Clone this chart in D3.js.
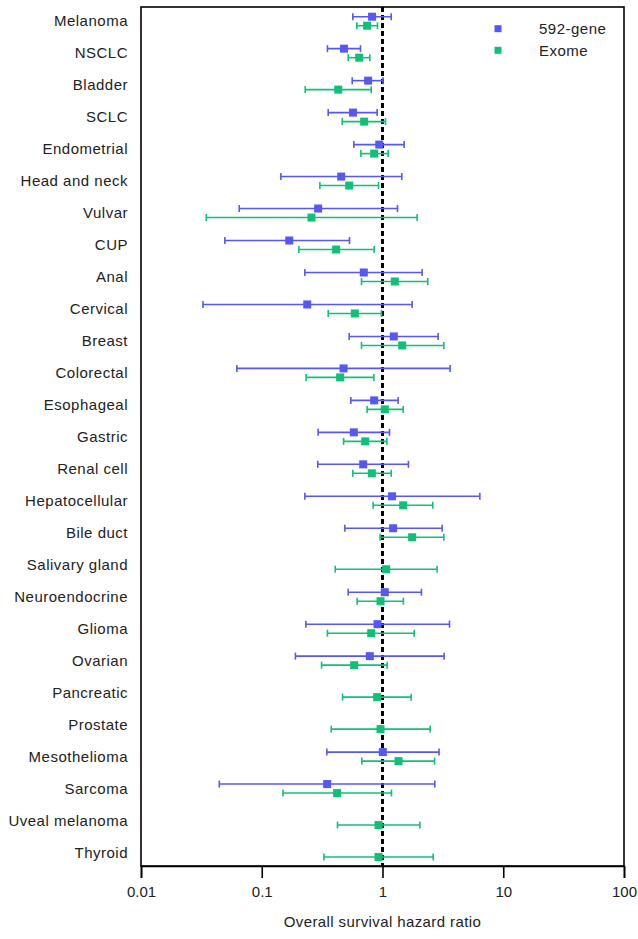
<!DOCTYPE html>
<html>
<head>
<meta charset="utf-8">
<script src="https://cdn.jsdelivr.net/npm/d3@7"></script>
<style>
  html, body { margin: 0; padding: 0; background: #fff; }
  svg { display: block; font-family: "Liberation Sans", Arial, sans-serif; }
</style>
</head>
<body>
<svg id="chart" width="638" height="939"></svg>
<script>
const categories = ["Melanoma","NSCLC","Bladder","SCLC","Endometrial","Head and neck","Vulvar","CUP","Anal","Cervical","Breast","Colorectal","Esophageal","Gastric","Renal cell","Hepatocellular","Bile duct","Salivary gland","Neuroendocrine","Glioma","Ovarian","Pancreatic","Prostate","Mesothelioma","Sarcoma","Uveal melanoma","Thyroid"];

// 592-gene series (null = not reported)
const geneHR   = [0.82,0.48,0.76,0.57,0.94,0.455,0.293,0.169,0.70,0.238,1.24,0.476,0.853,0.579,0.692,1.20,1.225,null,1.045,0.909,0.785,null,null,1.006,0.348,null,null];
const geneLow  = [0.568,0.35,0.561,0.355,0.579,0.144,0.0651,0.0495,0.2275,0.0326,0.53,0.0622,0.547,0.293,0.291,0.2275,0.488,null,0.52,0.232,0.19,null,null,0.346,0.0445,null,null];
const geneHigh = [1.18,0.657,1.01,0.903,1.51,1.445,1.331,0.533,2.13,1.76,2.89,3.63,1.348,1.143,1.64,6.4,3.12,null,2.10,3.59,3.24,null,null,2.94,2.71,null,null];

// Exome series
const exomeHR   = [0.746,0.641,0.43,0.705,0.853,0.53,0.258,0.413,1.265,0.59,1.455,0.446,1.045,0.719,0.816,1.483,1.76,1.072,0.963,0.806,0.583,0.903,0.963,1.357,0.421,0.927,0.927];
const exomeLow  = [0.613,0.52,0.229,0.464,0.662,0.303,0.0347,0.203,0.67,0.355,0.67,0.233,0.746,0.476,0.568,0.837,0.956,0.406,0.617,0.35,0.313,0.467,0.376,0.674,0.15,0.424,0.327];
const exomeHigh = [0.909,0.785,0.806,1.059,1.114,0.927,1.936,0.853,2.37,0.98,3.22,0.848,1.483,1.086,1.18,2.61,3.22,2.835,1.49,1.83,1.093,1.727,2.48,2.70,1.187,2.04,2.63];

const xTicks = [0.01, 0.1, 1, 10, 100];
const xTickLabels = ["0.01", "0.1", "1", "10", "100"];
const seriesNames = ["592-gene", "Exome"];
const seriesColors = ["#5757f2", "#10bf78"];

(function () {
const svg = d3.select("#chart");
const pLeft = 141, pRight = 624, pTop = 7, pBottom = 866;

const x = d3.scaleLog().domain([0.01, 100]).range([pLeft, pRight]);
const y = d3.scalePoint().domain(categories).range([21.2, 852.5]);

// frame
svg.append("rect")
  .attr("x", pLeft).attr("y", pTop)
  .attr("width", pRight - pLeft).attr("height", pBottom - pTop)
  .attr("fill", "none").attr("stroke", "#000").attr("stroke-width", 1.6);

// reference line at HR = 1
svg.append("line")
  .attr("x1", x(1)).attr("x2", x(1))
  .attr("y1", pTop).attr("y2", pBottom)
  .attr("stroke", "#000").attr("stroke-width", 3)
  .attr("stroke-dasharray", "5,3");

// x axis
const xAxis = d3.axisBottom(x)
  .tickValues(xTicks)
  .tickFormat((d, i) => xTickLabels[i])
  .tickSize(12)
  .tickPadding(8);
const gx = svg.append("g").attr("transform", `translate(0,${pBottom})`).call(xAxis);
gx.select(".domain").attr("stroke-width", 1.6);
gx.selectAll(".tick line").attr("stroke-width", 1.6);
gx.selectAll("text").attr("font-size", 15).attr("fill", "#222")
  .attr("font-family", "Liberation Sans, Arial, sans-serif");

svg.append("text")
  .attr("x", x(1)).attr("y", 927)
  .attr("text-anchor", "middle")
  .attr("font-size", 15).attr("fill", "#222")
  .attr("letter-spacing", 0.4)
  .text("Overall survival hazard ratio");

// category labels
svg.append("g").selectAll("text")
  .data(categories).join("text")
  .attr("x", 128)
  .attr("y", d => y(d))
  .attr("dy", "0.35em")
  .attr("text-anchor", "end")
  .attr("font-size", 15)
  .attr("letter-spacing", 0.5)
  .attr("fill", "#222")
  .text(d => d);

// series
const series = [
  { hr: geneHR, lo: geneLow, hi: geneHigh, off: -4.5, color: seriesColors[0] },
  { hr: exomeHR, lo: exomeLow, hi: exomeHigh, off: 4.5, color: seriesColors[1] }
];

series.forEach(s => {
  const rows = categories.map((c, i) => ({ c, hr: s.hr[i], lo: s.lo[i], hi: s.hi[i] }))
    .filter(d => d.hr != null);
  const g = svg.append("g");
  g.selectAll("line.bar").data(rows).join("line").attr("class", "bar")
    .attr("x1", d => x(d.lo)).attr("x2", d => x(d.hi))
    .attr("y1", d => y(d.c) + s.off).attr("y2", d => y(d.c) + s.off)
    .attr("stroke", s.color).attr("stroke-width", 1.6);
  g.selectAll("line.capl").data(rows).join("line").attr("class", "capl")
    .attr("x1", d => x(d.lo)).attr("x2", d => x(d.lo))
    .attr("y1", d => y(d.c) + s.off - 3.5).attr("y2", d => y(d.c) + s.off + 3.5)
    .attr("stroke", s.color).attr("stroke-width", 1.6);
  g.selectAll("line.caph").data(rows).join("line").attr("class", "caph")
    .attr("x1", d => x(d.hi)).attr("x2", d => x(d.hi))
    .attr("y1", d => y(d.c) + s.off - 3.5).attr("y2", d => y(d.c) + s.off + 3.5)
    .attr("stroke", s.color).attr("stroke-width", 1.6);
  g.selectAll("rect.pt").data(rows).join("rect").attr("class", "pt")
    .attr("x", d => x(d.hr) - 4).attr("y", d => y(d.c) + s.off - 4)
    .attr("width", 8).attr("height", 8)
    .attr("fill", s.color);
});

// legend
const legend = svg.append("g");
seriesNames.forEach((name, i) => {
  const ly = 28.7 + i * 21.6;
  legend.append("rect")
    .attr("x", 494.5).attr("y", ly - 3.5).attr("width", 7).attr("height", 7)
    .attr("fill", seriesColors[i]);
  legend.append("text")
    .attr("x", 539).attr("y", ly).attr("dy", "0.35em")
    .attr("font-size", 15).attr("letter-spacing", 0.5).attr("fill", "#222")
    .text(name);
});
})();
</script>
</body>
</html>
